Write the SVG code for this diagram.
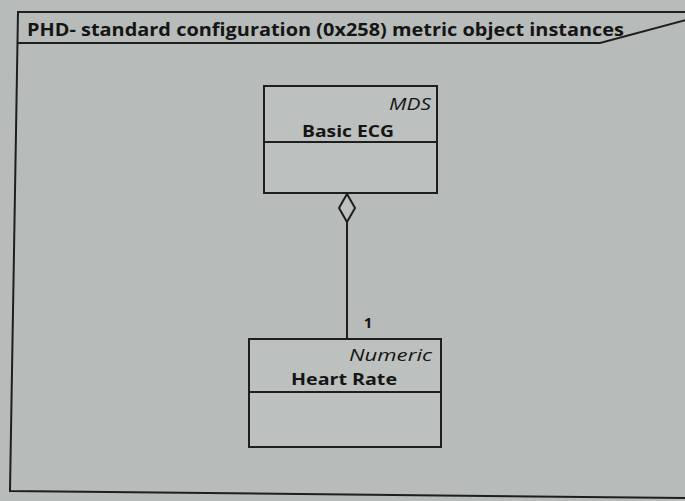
<svg xmlns="http://www.w3.org/2000/svg" width="685" height="501" viewBox="0 0 685 501">
<style>
.ln{fill:none;stroke:#1e1e1e;stroke-width:2}
.box{fill:#bcc0bf;stroke:#1e1e1e;stroke-width:2}
.t{font-family:"Open Sans","Liberation Sans",sans-serif;fill:#151515}
.b{font-weight:bold}
.i{font-style:italic}
</style>
<rect x="0" y="0" width="685" height="501" fill="#b7bbba"/>
<g id="frame">
<path class="ln" d="M690,12 L18,12 L10,491 L690,498"/>
<path class="ln" d="M18,43 L600,43 L690,19"/>
<text class="t b" x="27" y="36" font-size="17" textLength="597" lengthAdjust="spacingAndGlyphs">PHD- standard configuration (0x258) metric object instances</text>
</g>
<g id="mds">
<rect class="box" x="264" y="86" width="173" height="107"/>
<line class="ln" x1="264" y1="142" x2="437" y2="142"/>
<text class="t i" x="431" y="110" font-size="17" text-anchor="end" textLength="42" lengthAdjust="spacingAndGlyphs">MDS</text>
<text class="t b" x="348" y="137" font-size="16" text-anchor="middle" textLength="92" lengthAdjust="spacingAndGlyphs">Basic ECG</text>
</g>
<g id="heartrate">
<rect class="box" x="249" y="339" width="192" height="108"/>
<line class="ln" x1="249" y1="392" x2="441" y2="392"/>
<text class="t i" x="432" y="361" font-size="17" text-anchor="end" textLength="83" lengthAdjust="spacingAndGlyphs">Numeric</text>
<text class="t b" x="344" y="385" font-size="16" text-anchor="middle" textLength="106" lengthAdjust="spacingAndGlyphs">Heart Rate</text>
</g>
<g id="connectors">
<line class="ln" x1="347" y1="222" x2="347" y2="339"/>
<polygon points="347,194 355,208 347,222 339,208" fill="#bcc0bf" stroke="#1e1e1e" stroke-width="2"/>
<text class="t b" x="368" y="328" font-size="15" text-anchor="middle">1</text>
</g>
</svg>
